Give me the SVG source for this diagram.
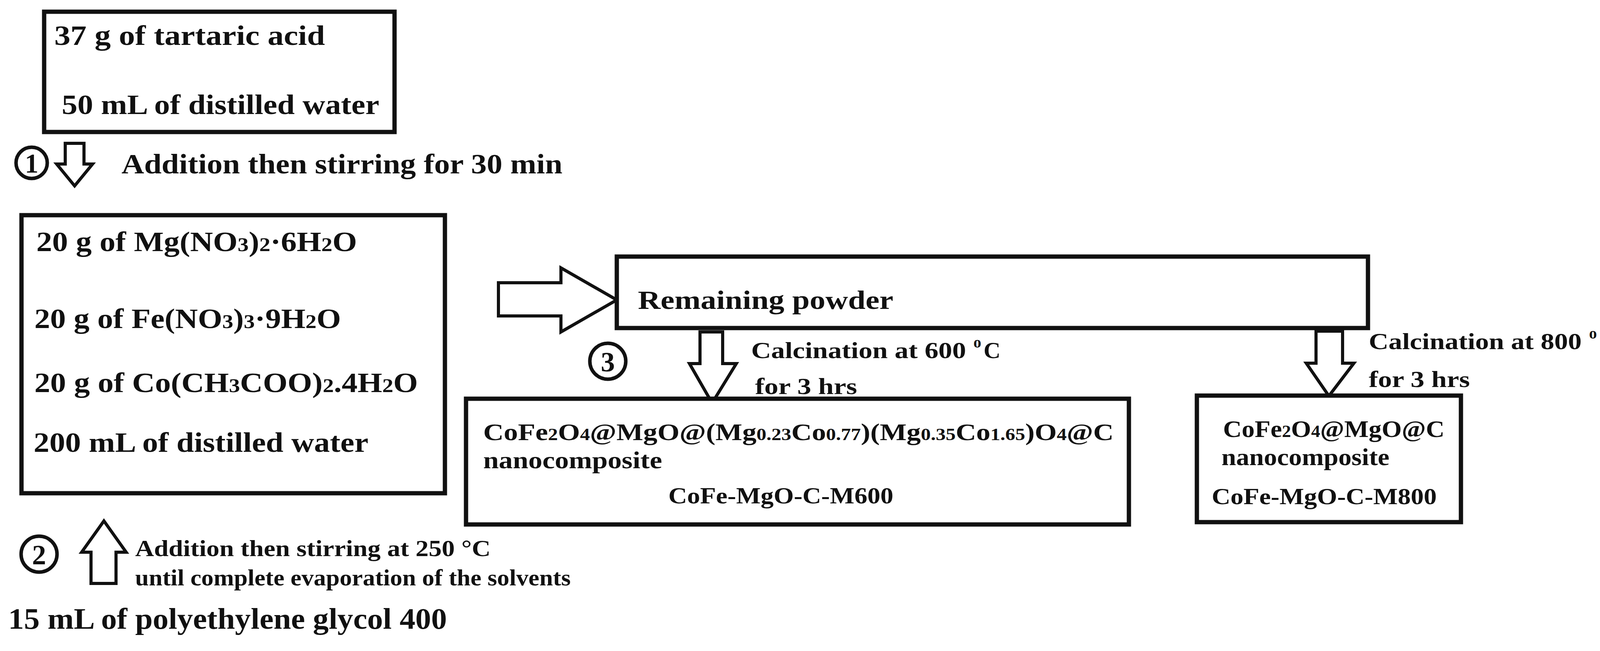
<svg xmlns="http://www.w3.org/2000/svg" width="4181" height="1667" viewBox="0 0 4181 1667">
<style>
text{font-family:"Liberation Serif","Times New Roman",serif;font-weight:bold;fill:#111}
.box{fill:#fff;stroke:#111;stroke-width:11}
.arr{fill:#fff;stroke:#111;stroke-width:8;stroke-linejoin:miter}
.circ{fill:#fff;stroke:#111;stroke-width:9}
.s{font-size:70%}
</style>
<rect width="4181" height="1667" fill="#fff"/>
<g id="connectors">
<polygon class="arr" points="167,367 215,367 215,420 237,420 191,476 145,420 167,420"/>
<polygon class="arr" points="233,1494 297,1494 297,1414 323,1414 266,1334 209,1414 233,1414"/>
<polygon class="arr" points="1276,724 1436,724 1436,686 1579,768 1436,850 1436,809 1276,809"/>
<polygon class="arr" points="1792,850 1850,850 1850,931 1885,931 1823,1032 1765,931 1792,931"/>
<polygon class="arr" points="3369,848 3437,848 3437,930 3466,930 3402,1014 3344,930 3369,930"/>
</g>
<g id="step1">
<circle class="circ" cx="81" cy="417" r="40"/>
<text x="81" y="442" font-size="70" text-anchor="middle">1</text>
<text x="311" y="444" font-size="72" textLength="1129" lengthAdjust="spacingAndGlyphs">Addition then stirring for 30 min</text>
</g>
<g id="step2">
<circle class="circ" cx="100" cy="1419" r="46"/>
<text x="100" y="1445" font-size="72" text-anchor="middle">2</text>
<text x="346" y="1424" font-size="60" textLength="910" lengthAdjust="spacingAndGlyphs">Addition then stirring at 250 °C</text>
<text x="346" y="1499" font-size="60" textLength="1115" lengthAdjust="spacingAndGlyphs">until complete evaporation of the solvents</text>
</g>
<g id="step3">
<circle class="circ" cx="1556" cy="925" r="46"/>
<text x="1556" y="951" font-size="72" text-anchor="middle">3</text>
<text x="1923" y="917" font-size="60" textLength="550" lengthAdjust="spacingAndGlyphs">Calcination at 600</text>
<text x="2492" y="890" font-size="40">o</text>
<text x="2518" y="917" font-size="60">C</text>
<text x="1933" y="1009" font-size="60" textLength="261" lengthAdjust="spacingAndGlyphs">for 3 hrs</text>
<text x="3504" y="894" font-size="60" textLength="545" lengthAdjust="spacingAndGlyphs">Calcination at 800</text>
<text x="4068" y="867" font-size="40">o</text>
<text x="4094" y="894" font-size="60">C</text>
<text x="3504" y="991" font-size="60" textLength="259" lengthAdjust="spacingAndGlyphs">for 3 hrs</text>
</g>
<g id="node-tartaric">
<rect class="box" x="113" y="30" width="897" height="308"/>
<text x="139" y="115" font-size="72" textLength="693" lengthAdjust="spacingAndGlyphs">37  g of tartaric acid</text>
<text x="158" y="292" font-size="72" textLength="813" lengthAdjust="spacingAndGlyphs">50 mL of distilled water</text>
</g>
<g id="node-salts">
<rect class="box" x="55" y="551" width="1084" height="712"/>
<text x="93" y="643" font-size="72" textLength="821" lengthAdjust="spacingAndGlyphs">20 g of Mg(NO<tspan class="s">3</tspan>)<tspan class="s">2</tspan>·6H<tspan class="s">2</tspan>O</text>
<text x="88" y="840" font-size="72" textLength="785" lengthAdjust="spacingAndGlyphs">20 g of Fe(NO<tspan class="s">3</tspan>)<tspan class="s">3</tspan>·9H<tspan class="s">2</tspan>O</text>
<text x="88" y="1004" font-size="72" textLength="982" lengthAdjust="spacingAndGlyphs">20 g of Co(CH<tspan class="s">3</tspan>COO)<tspan class="s">2</tspan>.4H<tspan class="s">2</tspan>O</text>
<text x="86" y="1157" font-size="72" textLength="857" lengthAdjust="spacingAndGlyphs">200 mL of distilled water</text>
</g>
<g id="node-peg">
<text x="21" y="1610" font-size="76" textLength="1123" lengthAdjust="spacingAndGlyphs">15 mL of polyethylene glycol 400</text>
</g>
<g id="node-powder">
<rect class="box" x="1579" y="657" width="1923" height="183"/>
<text x="1633" y="791" font-size="68" textLength="654" lengthAdjust="spacingAndGlyphs">Remaining powder</text>
</g>
<g id="node-m600">
<rect class="box" x="1193" y="1021" width="1697" height="322"/>
<text x="1237" y="1127" font-size="62" textLength="1614" lengthAdjust="spacingAndGlyphs">CoFe<tspan class="s">2</tspan>O<tspan class="s">4</tspan>@MgO@(Mg<tspan class="s">0.23</tspan>Co<tspan class="s">0.77</tspan>)(Mg<tspan class="s">0.35</tspan>Co<tspan class="s">1.65</tspan>)O<tspan class="s">4</tspan>@C</text>
<text x="1237" y="1199" font-size="62" textLength="458" lengthAdjust="spacingAndGlyphs">nanocomposite</text>
<text x="1711" y="1289" font-size="60" textLength="576" lengthAdjust="spacingAndGlyphs">CoFe-MgO-C-M600</text>
</g>
<g id="node-m800">
<rect class="box" x="3064" y="1013" width="676" height="324"/>
<text x="3131" y="1119" font-size="62" textLength="567" lengthAdjust="spacingAndGlyphs">CoFe<tspan class="s">2</tspan>O<tspan class="s">4</tspan>@MgO@C</text>
<text x="3127" y="1191" font-size="62" textLength="430" lengthAdjust="spacingAndGlyphs">nanocomposite</text>
<text x="3102" y="1291" font-size="60" textLength="576" lengthAdjust="spacingAndGlyphs">CoFe-MgO-C-M800</text>
</g>
</svg>
